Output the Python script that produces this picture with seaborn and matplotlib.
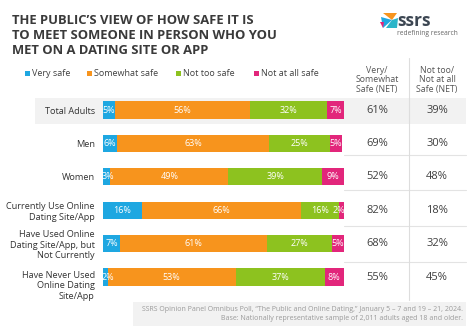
import matplotlib
matplotlib.use("Agg")
import matplotlib.pyplot as plt
import matplotlib.transforms as mtransforms
import seaborn as sns
import pandas as pd
import numpy as np
from matplotlib.patches import Rectangle, Polygon
from matplotlib.lines import Line2D

# ---------------- data ----------------
categories = ["Total Adults", "Men", "Women",
              "Currently Use Online\nDating Site/App",
              "Have Used Online\nDating Site/App, but\nNot Currently",
              "Have Never Used\nOnline Dating\nSite/App"]
very_safe = [5, 6, 3, 16, 7, 2]
somewhat_safe = [56, 63, 49, 66, 61, 53]
not_too_safe = [32, 25, 39, 16, 27, 37]
not_at_all_safe = [7, 5, 9, 2, 5, 8]
net_safe = ["61%", "69%", "52%", "82%", "68%", "55%"]
net_unsafe = ["39%", "30%", "48%", "18%", "32%", "45%"]
series_names = ["Very safe", "Somewhat safe", "Not too safe", "Not at all safe"]
colors = ["#1EA7E1", "#F7941D", "#8DC21F", "#E2267B"]
net_headers = ["Very/\nSomewhat\nSafe (NET)", "Not too/\nNot at all\nSafe (NET)"]
title = "THE PUBLIC\u2019S VIEW OF HOW SAFE IT IS\nTO MEET SOMEONE IN PERSON WHO YOU\nMET ON A DATING SITE OR APP"
footnote = ("SSRS Opinion Panel Omnibus Poll, \u201cThe Public and Online Dating,\u201d January 5 \u2013 7 and 19 \u2013 21, 2024.\n"
            "Base: Nationally representative sample of 2,011 adults aged 18 and older.")

# ---------------- setup ----------------
sns.set_theme(style="white")
plt.rcParams["font.family"] = ["Open Sans", "DejaVu Sans"]

W, H = 474, 333
fig = plt.figure(figsize=(W / 100, H / 100), dpi=100)
fig.patch.set_facecolor("white")

def fx(px):
    return px / W

def fy(py):
    return 1 - py / H

df = pd.DataFrame({"cat": categories, "v1": very_safe, "v2": somewhat_safe,
                   "v3": not_too_safe, "v4": not_at_all_safe})
vals = df[["v1", "v2", "v3", "v4"]].to_numpy()
cum = np.cumsum(vals, axis=1)

# grey band behind Total Adults row
fig.patches.append(Rectangle((fx(35), fy(124)), fx(466) - fx(35), fy(98) - fy(124),
                             transform=fig.transFigure, facecolor="#F2F2F2",
                             edgecolor="none", zorder=-2))

# main bar axes
row_top, row_bot = 110, 277
step = (row_bot - row_top) / (len(categories) - 1)
y0 = row_top - step / 2
y1 = row_bot + step / 2
ax = fig.add_axes([fx(103), fy(y1), fx(344) - fx(103), fy(y0) - fy(y1)])
ax.set_facecolor("none")
ax.set_zorder(1)

for j in range(3, -1, -1):
    sns.barplot(x=cum[:, j], y=df["cat"], orient="h", color=colors[j],
                width=0.51, ax=ax, saturation=1, edgecolor="none", linewidth=0)

ax.set_xlim(0, 100)
ax.set_ylim(len(categories) - 0.5, -0.5)
ax.set_xlabel("")
ax.set_ylabel("")
ax.set_xticks([])
for s in ax.spines.values():
    s.set_visible(False)
ax.tick_params(axis="y", length=0, pad=6, labelsize=6.6, labelcolor="#333333")
labels = ax.get_yticklabels()
for t in labels:
    t.set_linespacing(1.22)
# last label sits a little lower than its bar in the reference
labels[-1].set_transform(labels[-1].get_transform() +
                         mtransforms.ScaledTranslation(0, -7 / 100, fig.dpi_scale_trans))

# in-bar labels
for i in range(len(categories)):
    for j in range(4):
        v = vals[i, j]
        c = cum[i, j] - v / 2
        c = min(max(c, 2.0), 98.0)
        ax.text(c, i, f"{v}%", ha="center", va="center", color="white",
                fontsize=6.5, zorder=5)

# NET table axes
ax2 = fig.add_axes([fx(344), fy(y1), fx(466) - fx(344), fy(y0) - fy(y1)])
ax2.set_facecolor("none")
ax2.set_zorder(1)
ax2.set_xlim(344, 466)
ax2.set_ylim(len(categories) - 0.5, -0.5)
ax2.axis("off")
for i in range(len(categories)):
    ax2.text(377, i, net_safe[i], ha="center", va="center", fontsize=8, color="#404040")
    ax2.text(437, i, net_unsafe[i], ha="center", va="center", fontsize=8, color="#404040")
# horizontal separators
for yy in [155, 190, 226, 262]:
    fig.lines.append(Line2D([fx(344), fx(466)], [fy(yy), fy(yy)], transform=fig.transFigure,
                            color="#E3E3E3", lw=0.8, zorder=-1))
# vertical separator
fig.lines.append(Line2D([fx(409), fx(409)], [fy(58), fy(300)], transform=fig.transFigure,
                        color="#DDDDDD", lw=0.8, zorder=-1))

# headers
fig.text(fx(377), fy(80), net_headers[0], ha="center", va="center", fontsize=6.3,
         color="#555555", linespacing=1.1)
fig.text(fx(437), fy(80), net_headers[1], ha="center", va="center", fontsize=6.3,
         color="#555555", linespacing=1.1)

# legend (manual)
leg_sq = [25, 87, 176, 254]
for xs, col, name in zip(leg_sq, colors, series_names):
    fig.patches.append(Rectangle((fx(xs), fy(76)), fx(5), 5 / H, transform=fig.transFigure,
                                 facecolor=col, edgecolor="none"))
    fig.text(fx(xs + 7), fy(73.5), name, ha="left", va="center", fontsize=6.5, color="#404040")

# title
fig.text(fx(12), fy(35.5), title, ha="left", va="center", fontsize=9.4, fontweight="bold",
         color="#3A3A3A", linespacing=1.25)

# logo
fig.patches.append(Polygon([(fx(383), fy(13)), (fx(397), fy(13)), (fx(392), fy(20))],
                           closed=True, transform=fig.transFigure, facecolor="#F7941D", edgecolor="none"))
fig.patches.append(Polygon([(fx(381), fy(17)), (fx(392), fy(20)), (fx(383), fy(28))],
                           closed=True, transform=fig.transFigure, facecolor="#1EA7E1", edgecolor="none"))
fig.patches.append(Polygon([(fx(392), fy(20)), (fx(398), fy(18)), (fx(397), fy(28)), (fx(386), fy(28))],
                           closed=True, transform=fig.transFigure, facecolor="#2BB5C9", edgecolor="none"))
fig.patches.append(Polygon([(fx(380), fy(22)), (fx(384), fy(22)), (fx(383), fy(28))],
                           closed=True, transform=fig.transFigure, facecolor="#E2267B", edgecolor="none"))
fig.text(fx(397), fy(26), "ssrs", ha="left", va="baseline", fontsize=12.5, fontweight="bold",
         color="#3C4652")
fig.text(fx(397), fy(35), "redefining research", ha="left", va="baseline", fontsize=4.8,
         color="#666666")

# footnote box
fig.patches.append(Rectangle((fx(133), fy(326)), fx(466) - fx(133), (326 - 302) / H,
                             transform=fig.transFigure, facecolor="#F2F2F2", edgecolor="none", zorder=-2))
fig.text(fx(463), fy(314), footnote, ha="right", va="center", fontsize=5.0,
         color="#9A9A9A", linespacing=1.35, multialignment="right")

fig.savefig("out.png", dpi=100, facecolor="white")
